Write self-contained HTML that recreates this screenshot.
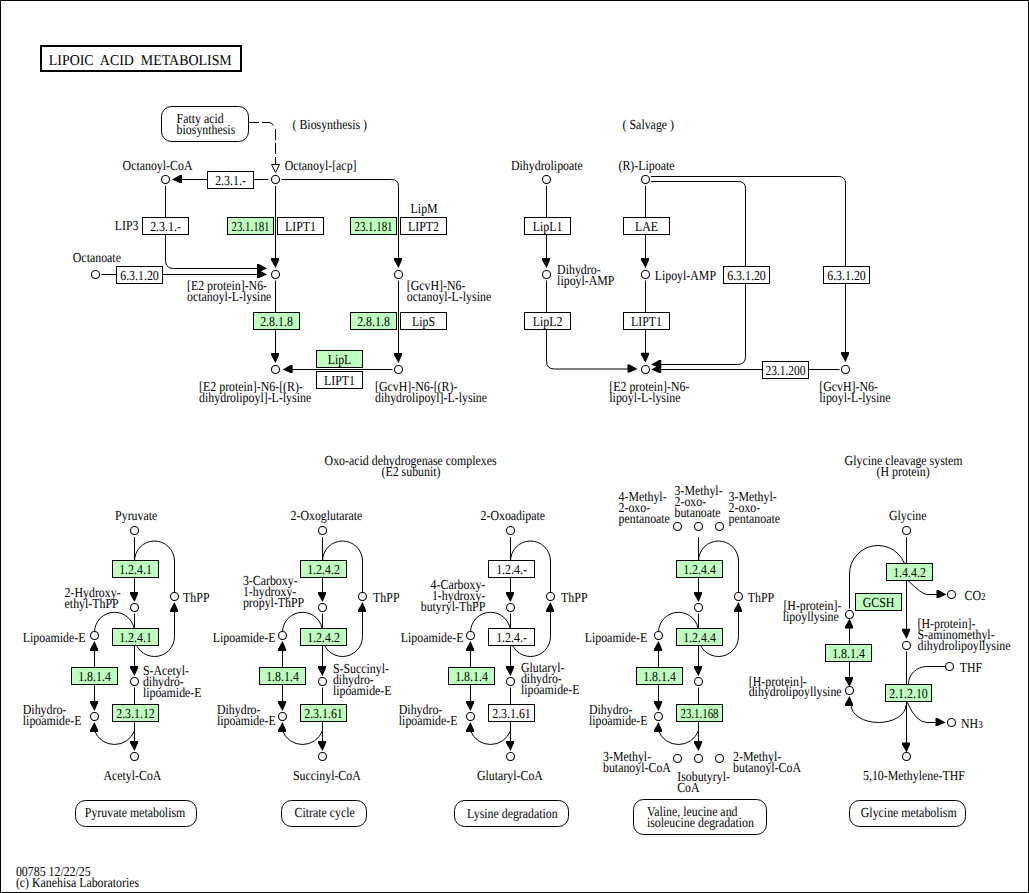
<!DOCTYPE html>
<html><head><meta charset="utf-8"><style>
html,body{margin:0;padding:0;background:#fff;}
svg{display:block;}
text{font-family:"Liberation Serif",serif;fill:#000;white-space:pre;text-rendering:geometricPrecision;}
.c{fill:#fff;stroke:#000;stroke-width:1.1;}
.l{fill:none;stroke:#000;stroke-width:1;}
.a{fill:#000;stroke:none;}
.bw{fill:#fff;stroke:#000;stroke-width:1;}
.bg{fill:#bfffbf;stroke:#000;stroke-width:1;}
.rb{fill:#fff;stroke:#000;stroke-width:1;}
</style></head><body>
<svg width="1029" height="893" viewBox="0 0 1029 893">
<rect x="0.5" y="0.5" width="1028" height="892" fill="#fff" stroke="#000" stroke-width="1"/>
<rect x="41" y="46" width="200" height="25" fill="none" stroke="#000" stroke-width="2"/>
<text transform="translate(48.80,65.00) scale(0.928,1)" font-size="15">LIPOIC  ACID  METABOLISM</text>
<rect x="161.5" y="106.5" width="87" height="35" rx="10" ry="10" class="rb"/>
<text transform="translate(176.60,123.00) scale(0.860,1)" font-size="13.8">Fatty acid</text>
<text transform="translate(176.60,134.00) scale(0.860,1)" font-size="13.8">biosynthesis</text>
<path d="M249,122.5 H259 M262,122.5 H269 Q272,122.5 273.5,125.5 M275.5,129 V140 M275.5,143 V154 M275.5,157 V164.5" class="l"/>
<polygon points="271.5,164.5 279.5,164.5 275.5,172.5" fill="#fff" stroke="#000" stroke-width="1"/>
<text transform="translate(292.50,129.00) scale(0.860,1)" font-size="13.8">( Biosynthesis )</text>
<text transform="translate(622.60,129.00) scale(0.860,1)" font-size="13.8">( Salvage )</text>
<circle cx="165.5" cy="179.5" r="4" class="c"/>
<text transform="translate(122.60,170.00) scale(0.860,1)" font-size="13.8">Octanoyl-CoA</text>
<circle cx="275.5" cy="179.5" r="4" class="c"/>
<text transform="translate(284.70,170.00) scale(0.860,1)" font-size="13.8">Octanoyl-[acp]</text>
<circle cx="546.5" cy="179.5" r="4" class="c"/>
<text transform="translate(511.00,170.00) scale(0.860,1)" font-size="13.8">Dihydrolipoate</text>
<circle cx="645.5" cy="179.5" r="4" class="c"/>
<text transform="translate(618.50,170.00) scale(0.860,1)" font-size="13.8">(R)-Lipoate</text>
<circle cx="95.5" cy="274.5" r="4" class="c"/>
<text transform="translate(72.80,262.00) scale(0.860,1)" font-size="13.8">Octanoate</text>
<circle cx="275.5" cy="274.5" r="4" class="c"/>
<text transform="translate(187.00,290.00) scale(0.860,1)" font-size="13.8">[E2 protein]-N6-</text>
<text transform="translate(187.00,301.00) scale(0.860,1)" font-size="13.8">octanoyl-L-lysine</text>
<circle cx="398.5" cy="274.5" r="4" class="c"/>
<text transform="translate(406.80,290.00) scale(0.860,1)" font-size="13.8">[GcvH]-N6-</text>
<text transform="translate(406.80,301.00) scale(0.860,1)" font-size="13.8">octanoyl-L-lysine</text>
<circle cx="275.5" cy="369.5" r="4" class="c"/>
<text transform="translate(199.10,391.00) scale(0.860,1)" font-size="13.8">[E2 protein]-N6-[(R)-</text>
<text transform="translate(199.10,402.00) scale(0.860,1)" font-size="13.8">dihydrolipoyl]-L-lysine</text>
<circle cx="398.5" cy="369.5" r="4" class="c"/>
<text transform="translate(375.00,391.00) scale(0.860,1)" font-size="13.8">[GcvH]-N6-[(R)-</text>
<text transform="translate(375.00,402.00) scale(0.860,1)" font-size="13.8">dihydrolipoyl]-L-lysine</text>
<circle cx="546.5" cy="274.5" r="4" class="c"/>
<text transform="translate(557.10,274.00) scale(0.860,1)" font-size="13.8">Dihydro-</text>
<text transform="translate(557.10,285.00) scale(0.860,1)" font-size="13.8">lipoyl-AMP</text>
<circle cx="645.5" cy="274.5" r="4" class="c"/>
<text transform="translate(654.70,280.00) scale(0.860,1)" font-size="13.8">Lipoyl-AMP</text>
<circle cx="645.5" cy="369.5" r="4" class="c"/>
<text transform="translate(609.30,391.00) scale(0.860,1)" font-size="13.8">[E2 protein]-N6-</text>
<text transform="translate(609.30,402.00) scale(0.860,1)" font-size="13.8">lipoyl-L-lysine</text>
<circle cx="845.5" cy="369.5" r="4" class="c"/>
<text transform="translate(819.30,391.00) scale(0.860,1)" font-size="13.8">[GcvH]-N6-</text>
<text transform="translate(819.30,402.00) scale(0.860,1)" font-size="13.8">lipoyl-L-lysine</text>
<text transform="translate(114.80,230.00) scale(0.860,1)" font-size="13.8">LIP3</text>
<text transform="translate(410.60,213.00) scale(0.860,1)" font-size="13.8">LipM</text>
<path d="M268.5,179.5 H181" class="l"/>
<polygon points="172.00,179.50 180.00,183.00 182.00,183.00 182.00,175.00 180.00,175.00" class="a"/>
<path d="M165.5,186 V260.5 Q165.5,268.5 173.5,268.5 H257.5" class="l"/>
<polygon points="267.00,268.50 259.00,272.00 257.00,272.00 257.00,264.00 259.00,264.00" class="a"/>
<path d="M101.5,274.5 H257.5" class="l"/>
<polygon points="267.00,274.50 259.00,278.00 257.00,278.00 257.00,270.00 259.00,270.00" class="a"/>
<path d="M275.5,186 V258.5" class="l"/>
<polygon points="275.50,268.00 279.00,260.00 279.00,258.00 271.00,258.00 271.00,260.00" class="a"/>
<path d="M281.5,179.5 H391.5 Q398.5,179.5 398.5,186.5 V258.5" class="l"/>
<polygon points="398.50,268.00 402.00,260.00 402.00,258.00 394.00,258.00 394.00,260.00" class="a"/>
<path d="M275.5,280.5 V353.5" class="l"/>
<polygon points="275.50,363.00 279.00,355.00 279.00,353.00 271.00,353.00 271.00,355.00" class="a"/>
<path d="M398.5,280.5 V353.5" class="l"/>
<polygon points="398.50,363.00 402.00,355.00 402.00,353.00 394.00,353.00 394.00,355.00" class="a"/>
<path d="M392.5,369.5 H292" class="l"/>
<polygon points="282.60,369.50 290.60,373.00 292.60,373.00 292.60,365.00 290.60,365.00" class="a"/>
<path d="M546.5,186 V258.5" class="l"/>
<polygon points="546.50,268.00 550.00,260.00 550.00,258.00 542.00,258.00 542.00,260.00" class="a"/>
<path d="M546.5,280.5 V361 Q546.5,369 554.5,369 H628" class="l"/>
<polygon points="637.50,369.00 629.50,372.50 627.50,372.50 627.50,364.50 629.50,364.50" class="a"/>
<path d="M645.5,186 V258.5" class="l"/>
<polygon points="645.50,268.00 649.00,260.00 649.00,258.00 641.00,258.00 641.00,260.00" class="a"/>
<path d="M645.5,280.5 V353" class="l"/>
<polygon points="645.50,362.70 649.00,354.70 649.00,352.70 641.00,352.70 641.00,354.70" class="a"/>
<path d="M651,176.5 H838.5 Q845.5,176.5 845.5,183.5 V352.5" class="l"/>
<polygon points="845.50,362.00 849.00,354.00 849.00,352.00 841.00,352.00 841.00,354.00" class="a"/>
<path d="M651,181.5 H738.5 Q745.5,181.5 745.5,188.5 V356.5 Q745.5,364.5 737.5,364.5 H660.5" class="l"/>
<polygon points="651.20,364.50 659.20,368.00 661.20,368.00 661.20,360.00 659.20,360.00" class="a"/>
<path d="M839.5,369.5 H660.5" class="l"/>
<polygon points="651.20,369.50 659.20,373.00 661.20,373.00 661.20,365.00 659.20,365.00" class="a"/>
<rect x="207.5" y="171.5" width="46" height="17" class="bw"/>
<text transform="translate(230.50,185.00) scale(0.860,1)" text-anchor="middle" font-size="13.8">2.3.1.-</text>
<rect x="142.5" y="217.5" width="46" height="17" class="bw"/>
<text transform="translate(165.50,231.00) scale(0.860,1)" text-anchor="middle" font-size="13.8">2.3.1.-</text>
<rect x="116.5" y="266.5" width="46" height="17" class="bw"/>
<text transform="translate(139.50,280.00) scale(0.860,1)" text-anchor="middle" font-size="13.8">6.3.1.20</text>
<rect x="227.5" y="217.5" width="46" height="17" class="bg"/>
<text x="250.50" y="231.00" text-anchor="middle" font-size="13.8" textLength="38" lengthAdjust="spacingAndGlyphs">23.1.181</text>
<rect x="277.5" y="217.5" width="46" height="17" class="bw"/>
<text transform="translate(300.50,231.00) scale(0.860,1)" text-anchor="middle" font-size="13.8">LIPT1</text>
<rect x="350.5" y="217.5" width="46" height="17" class="bg"/>
<text x="373.50" y="231.00" text-anchor="middle" font-size="13.8" textLength="38" lengthAdjust="spacingAndGlyphs">23.1.181</text>
<rect x="400.5" y="217.5" width="46" height="17" class="bw"/>
<text transform="translate(423.50,231.00) scale(0.860,1)" text-anchor="middle" font-size="13.8">LIPT2</text>
<rect x="253.5" y="312.5" width="46" height="17" class="bg"/>
<text transform="translate(276.50,326.00) scale(0.860,1)" text-anchor="middle" font-size="13.8">2.8.1.8</text>
<rect x="350.5" y="312.5" width="46" height="17" class="bg"/>
<text transform="translate(373.50,326.00) scale(0.860,1)" text-anchor="middle" font-size="13.8">2.8.1.8</text>
<rect x="400.5" y="312.5" width="46" height="17" class="bw"/>
<text transform="translate(423.50,326.00) scale(0.860,1)" text-anchor="middle" font-size="13.8">LipS</text>
<rect x="316.5" y="350.5" width="46" height="17" class="bg"/>
<text transform="translate(339.50,364.00) scale(0.860,1)" text-anchor="middle" font-size="13.8">LipL</text>
<rect x="316.5" y="371.5" width="46" height="17" class="bw"/>
<text transform="translate(339.50,385.00) scale(0.860,1)" text-anchor="middle" font-size="13.8">LIPT1</text>
<rect x="524.5" y="217.5" width="46" height="17" class="bw"/>
<text transform="translate(547.50,231.00) scale(0.860,1)" text-anchor="middle" font-size="13.8">LipL1</text>
<rect x="623.5" y="217.5" width="46" height="17" class="bw"/>
<text transform="translate(646.50,231.00) scale(0.860,1)" text-anchor="middle" font-size="13.8">LAE</text>
<rect x="524.5" y="312.5" width="46" height="17" class="bw"/>
<text transform="translate(547.50,326.00) scale(0.860,1)" text-anchor="middle" font-size="13.8">LipL2</text>
<rect x="623.5" y="312.5" width="46" height="17" class="bw"/>
<text transform="translate(646.50,326.00) scale(0.860,1)" text-anchor="middle" font-size="13.8">LIPT1</text>
<rect x="723.5" y="266.5" width="46" height="17" class="bw"/>
<text transform="translate(746.50,280.00) scale(0.860,1)" text-anchor="middle" font-size="13.8">6.3.1.20</text>
<rect x="823.5" y="266.5" width="46" height="17" class="bw"/>
<text transform="translate(846.50,280.00) scale(0.860,1)" text-anchor="middle" font-size="13.8">6.3.1.20</text>
<rect x="762.5" y="361.5" width="46" height="17" class="bw"/>
<text x="785.50" y="375.00" text-anchor="middle" font-size="13.8" textLength="40" lengthAdjust="spacingAndGlyphs">23.1.200</text>
<text transform="translate(324.60,465.00) scale(0.860,1)" font-size="13.8">Oxo-acid dehydrogenase complexes</text>
<text transform="translate(381.50,476.00) scale(0.860,1)" font-size="13.8">(E2 subunit)</text>
<text transform="translate(844.60,465.00) scale(0.860,1)" font-size="13.8">Glycine cleavage system</text>
<text transform="translate(876.60,476.00) scale(0.860,1)" font-size="13.8">(H protein)</text>
<path d="M134.5,537 V593" class="l"/>
<polygon points="134.50,602.00 138.00,594.00 138.00,592.00 130.00,592.00 130.00,594.00" class="a"/>
<path d="M134.5,561 A20,20 0 0 1 174.5,561 V592.5" class="l"/>
<path d="M134.5,613.5 V667" class="l"/>
<polygon points="134.50,676.00 138.00,668.00 138.00,666.00 130.00,666.00 130.00,668.00" class="a"/>
<path d="M94.5,632.3 A20,20 0 0 1 134.5,632.3" class="l"/>
<path d="M174.5,611 V636.5 A20,20 0 0 1 134.5,636.5" class="l"/>
<polygon points="174.50,602.00 178.00,610.00 178.00,612.00 170.00,612.00 170.00,610.00" class="a"/>
<path d="M134.5,687.5 V742" class="l"/>
<polygon points="134.50,751.00 138.00,743.00 138.00,741.00 130.00,741.00 130.00,743.00" class="a"/>
<path d="M94.5,730.8 A21.45,21.45 0 0 0 134.5,730.8" class="l"/>
<polygon points="94.50,722.00 98.00,730.00 98.00,732.00 90.00,732.00 90.00,730.00" class="a"/>
<path d="M94.5,650 V702" class="l"/>
<polygon points="94.50,641.00 98.00,649.00 98.00,651.00 90.00,651.00 90.00,649.00" class="a"/>
<polygon points="94.50,711.00 98.00,703.00 98.00,701.00 90.00,701.00 90.00,703.00" class="a"/>
<circle cx="174.5" cy="596.5" r="4" class="c"/>
<circle cx="94.5" cy="635.5" r="4" class="c"/>
<circle cx="134.5" cy="607.5" r="4" class="c"/>
<circle cx="134.5" cy="681.5" r="4" class="c"/>
<circle cx="94.5" cy="716.5" r="4" class="c"/>
<circle cx="134.5" cy="530.5" r="4" class="c"/>
<circle cx="134.5" cy="756.5" r="4" class="c"/>
<rect x="112.5" y="560.5" width="46" height="17" class="bg"/>
<text transform="translate(135.50,574.00) scale(0.860,1)" text-anchor="middle" font-size="13.8">1.2.4.1</text>
<rect x="112.5" y="628.5" width="46" height="17" class="bg"/>
<text transform="translate(135.50,642.00) scale(0.860,1)" text-anchor="middle" font-size="13.8">1.2.4.1</text>
<rect x="71.5" y="667.5" width="46" height="17" class="bg"/>
<text transform="translate(94.50,681.00) scale(0.860,1)" text-anchor="middle" font-size="13.8">1.8.1.4</text>
<rect x="112.5" y="704.5" width="46" height="17" class="bg"/>
<text transform="translate(135.50,718.00) scale(0.860,1)" text-anchor="middle" font-size="13.8">2.3.1.12</text>
<path d="M322.5,537 V593" class="l"/>
<polygon points="322.50,602.00 326.00,594.00 326.00,592.00 318.00,592.00 318.00,594.00" class="a"/>
<path d="M322.5,561 A20,20 0 0 1 362.5,561 V592.5" class="l"/>
<path d="M322.5,613.5 V667" class="l"/>
<polygon points="322.50,676.00 326.00,668.00 326.00,666.00 318.00,666.00 318.00,668.00" class="a"/>
<path d="M282.5,632.3 A20,20 0 0 1 322.5,632.3" class="l"/>
<path d="M362.5,611 V636.5 A20,20 0 0 1 322.5,636.5" class="l"/>
<polygon points="362.50,602.00 366.00,610.00 366.00,612.00 358.00,612.00 358.00,610.00" class="a"/>
<path d="M322.5,687.5 V742" class="l"/>
<polygon points="322.50,751.00 326.00,743.00 326.00,741.00 318.00,741.00 318.00,743.00" class="a"/>
<path d="M282.5,730.8 A21.45,21.45 0 0 0 322.5,730.8" class="l"/>
<polygon points="282.50,722.00 286.00,730.00 286.00,732.00 278.00,732.00 278.00,730.00" class="a"/>
<path d="M282.5,650 V702" class="l"/>
<polygon points="282.50,641.00 286.00,649.00 286.00,651.00 278.00,651.00 278.00,649.00" class="a"/>
<polygon points="282.50,711.00 286.00,703.00 286.00,701.00 278.00,701.00 278.00,703.00" class="a"/>
<circle cx="362.5" cy="596.5" r="4" class="c"/>
<circle cx="282.5" cy="635.5" r="4" class="c"/>
<circle cx="322.5" cy="607.5" r="4" class="c"/>
<circle cx="322.5" cy="681.5" r="4" class="c"/>
<circle cx="282.5" cy="716.5" r="4" class="c"/>
<circle cx="322.5" cy="530.5" r="4" class="c"/>
<circle cx="322.5" cy="756.5" r="4" class="c"/>
<rect x="300.5" y="560.5" width="46" height="17" class="bg"/>
<text transform="translate(323.50,574.00) scale(0.860,1)" text-anchor="middle" font-size="13.8">1.2.4.2</text>
<rect x="300.5" y="628.5" width="46" height="17" class="bg"/>
<text transform="translate(323.50,642.00) scale(0.860,1)" text-anchor="middle" font-size="13.8">1.2.4.2</text>
<rect x="259.5" y="667.5" width="46" height="17" class="bg"/>
<text transform="translate(282.50,681.00) scale(0.860,1)" text-anchor="middle" font-size="13.8">1.8.1.4</text>
<rect x="300.5" y="704.5" width="46" height="17" class="bg"/>
<text transform="translate(323.50,718.00) scale(0.860,1)" text-anchor="middle" font-size="13.8">2.3.1.61</text>
<path d="M510.5,537 V593" class="l"/>
<polygon points="510.50,602.00 514.00,594.00 514.00,592.00 506.00,592.00 506.00,594.00" class="a"/>
<path d="M510.5,561 A20,20 0 0 1 550.5,561 V592.5" class="l"/>
<path d="M510.5,613.5 V667" class="l"/>
<polygon points="510.50,676.00 514.00,668.00 514.00,666.00 506.00,666.00 506.00,668.00" class="a"/>
<path d="M470.5,632.3 A20,20 0 0 1 510.5,632.3" class="l"/>
<path d="M550.5,611 V636.5 A20,20 0 0 1 510.5,636.5" class="l"/>
<polygon points="550.50,602.00 554.00,610.00 554.00,612.00 546.00,612.00 546.00,610.00" class="a"/>
<path d="M510.5,687.5 V742" class="l"/>
<polygon points="510.50,751.00 514.00,743.00 514.00,741.00 506.00,741.00 506.00,743.00" class="a"/>
<path d="M470.5,730.8 A21.45,21.45 0 0 0 510.5,730.8" class="l"/>
<polygon points="470.50,722.00 474.00,730.00 474.00,732.00 466.00,732.00 466.00,730.00" class="a"/>
<path d="M470.5,650 V702" class="l"/>
<polygon points="470.50,641.00 474.00,649.00 474.00,651.00 466.00,651.00 466.00,649.00" class="a"/>
<polygon points="470.50,711.00 474.00,703.00 474.00,701.00 466.00,701.00 466.00,703.00" class="a"/>
<circle cx="550.5" cy="596.5" r="4" class="c"/>
<circle cx="470.5" cy="635.5" r="4" class="c"/>
<circle cx="510.5" cy="607.5" r="4" class="c"/>
<circle cx="510.5" cy="681.5" r="4" class="c"/>
<circle cx="470.5" cy="716.5" r="4" class="c"/>
<circle cx="510.5" cy="530.5" r="4" class="c"/>
<circle cx="510.5" cy="756.5" r="4" class="c"/>
<rect x="488.5" y="560.5" width="46" height="17" class="bw"/>
<text transform="translate(511.50,574.00) scale(0.860,1)" text-anchor="middle" font-size="13.8">1.2.4.-</text>
<rect x="488.5" y="628.5" width="46" height="17" class="bw"/>
<text transform="translate(511.50,642.00) scale(0.860,1)" text-anchor="middle" font-size="13.8">1.2.4.-</text>
<rect x="448.5" y="667.5" width="46" height="17" class="bg"/>
<text transform="translate(471.50,681.00) scale(0.860,1)" text-anchor="middle" font-size="13.8">1.8.1.4</text>
<rect x="488.5" y="704.5" width="46" height="17" class="bw"/>
<text transform="translate(511.50,718.00) scale(0.860,1)" text-anchor="middle" font-size="13.8">2.3.1.61</text>
<path d="M698.5,537 V593" class="l"/>
<polygon points="698.50,602.00 702.00,594.00 702.00,592.00 694.00,592.00 694.00,594.00" class="a"/>
<path d="M698.5,561 A20,20 0 0 1 738.5,561 V592.5" class="l"/>
<path d="M698.5,613.5 V667" class="l"/>
<polygon points="698.50,676.00 702.00,668.00 702.00,666.00 694.00,666.00 694.00,668.00" class="a"/>
<path d="M658.5,632.3 A20,20 0 0 1 698.5,632.3" class="l"/>
<path d="M738.5,611 V636.5 A20,20 0 0 1 698.5,636.5" class="l"/>
<polygon points="738.50,602.00 742.00,610.00 742.00,612.00 734.00,612.00 734.00,610.00" class="a"/>
<path d="M698.5,687.5 V742" class="l"/>
<polygon points="698.50,751.00 702.00,743.00 702.00,741.00 694.00,741.00 694.00,743.00" class="a"/>
<path d="M658.5,730.8 A21.45,21.45 0 0 0 698.5,730.8" class="l"/>
<polygon points="658.50,722.00 662.00,730.00 662.00,732.00 654.00,732.00 654.00,730.00" class="a"/>
<path d="M658.5,650 V702" class="l"/>
<polygon points="658.50,641.00 662.00,649.00 662.00,651.00 654.00,651.00 654.00,649.00" class="a"/>
<polygon points="658.50,711.00 662.00,703.00 662.00,701.00 654.00,701.00 654.00,703.00" class="a"/>
<circle cx="738.5" cy="596.5" r="4" class="c"/>
<circle cx="658.5" cy="635.5" r="4" class="c"/>
<circle cx="698.5" cy="607.5" r="4" class="c"/>
<circle cx="698.5" cy="681.5" r="4" class="c"/>
<circle cx="658.5" cy="716.5" r="4" class="c"/>
<circle cx="677.5" cy="526.5" r="4" class="c"/>
<circle cx="677.5" cy="758.5" r="4" class="c"/>
<circle cx="698.5" cy="526.5" r="4" class="c"/>
<circle cx="698.5" cy="758.5" r="4" class="c"/>
<circle cx="719.5" cy="526.5" r="4" class="c"/>
<circle cx="719.5" cy="758.5" r="4" class="c"/>
<rect x="676.5" y="560.5" width="46" height="17" class="bg"/>
<text transform="translate(699.50,574.00) scale(0.860,1)" text-anchor="middle" font-size="13.8">1.2.4.4</text>
<rect x="676.5" y="628.5" width="46" height="17" class="bg"/>
<text transform="translate(699.50,642.00) scale(0.860,1)" text-anchor="middle" font-size="13.8">1.2.4.4</text>
<rect x="636.5" y="667.5" width="46" height="17" class="bg"/>
<text transform="translate(659.50,681.00) scale(0.860,1)" text-anchor="middle" font-size="13.8">1.8.1.4</text>
<rect x="676.5" y="704.5" width="46" height="17" class="bg"/>
<text x="699.50" y="718.00" text-anchor="middle" font-size="13.8" textLength="38" lengthAdjust="spacingAndGlyphs">23.1.168</text>
<text transform="translate(115.10,520.00) scale(0.860,1)" font-size="13.8">Pyruvate</text>
<text transform="translate(64.60,597.00) scale(0.860,1)" font-size="13.8">2-Hydroxy-</text>
<text transform="translate(64.60,608.00) scale(0.860,1)" font-size="13.8">ethyl-ThPP</text>
<text transform="translate(183.10,602.00) scale(0.860,1)" font-size="13.8">ThPP</text>
<text transform="translate(22.80,642.00) scale(0.860,1)" font-size="13.8">Lipoamide-E</text>
<text transform="translate(142.90,675.00) scale(0.860,1)" font-size="13.8">S-Acetyl-</text>
<text transform="translate(142.90,686.00) scale(0.860,1)" font-size="13.8">dihydro-</text>
<text transform="translate(142.90,697.00) scale(0.860,1)" font-size="13.8">lipoamide-E</text>
<text transform="translate(22.80,714.00) scale(0.860,1)" font-size="13.8">Dihydro-</text>
<text transform="translate(22.80,725.00) scale(0.860,1)" font-size="13.8">lipoamide-E</text>
<text transform="translate(103.40,780.00) scale(0.860,1)" font-size="13.8">Acetyl-CoA</text>
<text transform="translate(290.50,520.00) scale(0.860,1)" font-size="13.8">2-Oxoglutarate</text>
<text transform="translate(242.90,585.00) scale(0.860,1)" font-size="13.8">3-Carboxy-</text>
<text transform="translate(242.90,596.00) scale(0.860,1)" font-size="13.8">1-hydroxy-</text>
<text transform="translate(242.90,607.00) scale(0.860,1)" font-size="13.8">propyl-ThPP</text>
<text transform="translate(373.10,602.00) scale(0.860,1)" font-size="13.8">ThPP</text>
<text transform="translate(212.80,642.00) scale(0.860,1)" font-size="13.8">Lipoamide-E</text>
<text transform="translate(332.90,673.00) scale(0.860,1)" font-size="13.8">S-Succinyl-</text>
<text transform="translate(332.90,684.00) scale(0.860,1)" font-size="13.8">dihydro-</text>
<text transform="translate(332.90,695.00) scale(0.860,1)" font-size="13.8">lipoamide-E</text>
<text transform="translate(217.00,714.00) scale(0.860,1)" font-size="13.8">Dihydro-</text>
<text transform="translate(217.00,725.00) scale(0.860,1)" font-size="13.8">lipoamide-E</text>
<text transform="translate(292.90,780.00) scale(0.860,1)" font-size="13.8">Succinyl-CoA</text>
<text transform="translate(480.50,520.00) scale(0.860,1)" font-size="13.8">2-Oxoadipate</text>
<text transform="translate(485.30,589.00) scale(0.860,1)" text-anchor="end" font-size="13.8">4-Carboxy-</text>
<text transform="translate(485.30,600.00) scale(0.860,1)" text-anchor="end" font-size="13.8">1-hydroxy-</text>
<text transform="translate(485.30,611.00) scale(0.860,1)" text-anchor="end" font-size="13.8">butyryl-ThPP</text>
<text transform="translate(561.10,602.00) scale(0.860,1)" font-size="13.8">ThPP</text>
<text transform="translate(400.80,642.00) scale(0.860,1)" font-size="13.8">Lipoamide-E</text>
<text transform="translate(520.90,672.00) scale(0.860,1)" font-size="13.8">Glutaryl-</text>
<text transform="translate(520.90,683.00) scale(0.860,1)" font-size="13.8">dihydro-</text>
<text transform="translate(520.90,694.00) scale(0.860,1)" font-size="13.8">lipoamide-E</text>
<text transform="translate(398.80,714.00) scale(0.860,1)" font-size="13.8">Dihydro-</text>
<text transform="translate(398.80,725.00) scale(0.860,1)" font-size="13.8">lipoamide-E</text>
<text transform="translate(477.00,780.00) scale(0.860,1)" font-size="13.8">Glutaryl-CoA</text>
<text transform="translate(618.50,501.00) scale(0.860,1)" font-size="13.8">4-Methyl-</text>
<text transform="translate(618.50,512.00) scale(0.860,1)" font-size="13.8">2-oxo-</text>
<text transform="translate(618.50,523.00) scale(0.860,1)" font-size="13.8">pentanoate</text>
<text transform="translate(674.50,495.00) scale(0.860,1)" font-size="13.8">3-Methyl-</text>
<text transform="translate(674.50,506.00) scale(0.860,1)" font-size="13.8">2-oxo-</text>
<text transform="translate(674.50,517.00) scale(0.860,1)" font-size="13.8">butanoate</text>
<text transform="translate(728.60,501.00) scale(0.860,1)" font-size="13.8">3-Methyl-</text>
<text transform="translate(728.60,512.00) scale(0.860,1)" font-size="13.8">2-oxo-</text>
<text transform="translate(728.60,523.00) scale(0.860,1)" font-size="13.8">pentanoate</text>
<text transform="translate(747.80,602.00) scale(0.860,1)" font-size="13.8">ThPP</text>
<text transform="translate(584.70,642.00) scale(0.860,1)" font-size="13.8">Lipoamide-E</text>
<text transform="translate(588.90,714.00) scale(0.860,1)" font-size="13.8">Dihydro-</text>
<text transform="translate(588.90,725.00) scale(0.860,1)" font-size="13.8">lipoamide-E</text>
<text transform="translate(603.00,761.00) scale(0.860,1)" font-size="13.8">3-Methyl-</text>
<text transform="translate(603.00,772.00) scale(0.860,1)" font-size="13.8">butanoyl-CoA</text>
<text transform="translate(677.20,781.00) scale(0.860,1)" font-size="13.8">Isobutyryl-</text>
<text transform="translate(677.20,792.00) scale(0.860,1)" font-size="13.8">CoA</text>
<text transform="translate(733.10,761.00) scale(0.860,1)" font-size="13.8">2-Methyl-</text>
<text transform="translate(733.10,772.00) scale(0.860,1)" font-size="13.8">butanoyl-CoA</text>
<path d="M906.5,537 V629.5" class="l"/>
<polygon points="906.50,638.80 910.00,630.80 910.00,628.80 902.00,628.80 902.00,630.80" class="a"/>
<path d="M849.5,574 A28.5,28.5 0 0 1 906.5,574" class="l"/>
<path d="M849.5,574 V608.5" class="l"/>
<path d="M849.5,627.5 V644.5" class="l"/>
<polygon points="849.50,618.50 853.00,626.50 853.00,628.50 845.00,628.50 845.00,626.50" class="a"/>
<path d="M908,580.5 Q922,594.5 927,594.5 H937" class="l"/>
<polygon points="946.50,594.50 938.50,598.00 936.50,598.00 936.50,590.00 938.50,590.00" class="a"/>
<path d="M906.5,651.5 V743.5" class="l"/>
<polygon points="906.50,752.50 910.00,744.50 910.00,742.50 902.00,742.50 902.00,744.50" class="a"/>
<path d="M849.5,661.5 V677" class="l"/>
<polygon points="849.50,687.00 853.00,679.00 853.00,677.00 845.00,677.00 845.00,679.00" class="a"/>
<path d="M851,705 A27.5,17.5 0 0 0 906,705" class="l"/>
<polygon points="849.50,696.00 853.00,704.00 853.00,706.00 845.00,706.00 845.00,704.00" class="a"/>
<path d="M908.5,684 A18.5,17.5 0 0 1 927,666.5 H945.5" class="l"/>
<path d="M907,702 Q916,722.5 927,722.5 H937" class="l"/>
<polygon points="945.50,722.50 937.50,726.00 935.50,726.00 935.50,718.00 937.50,718.00" class="a"/>
<circle cx="906.5" cy="530.5" r="4" class="c"/>
<circle cx="906.5" cy="645.5" r="4" class="c"/>
<circle cx="951.5" cy="594.5" r="4" class="c"/>
<circle cx="849.5" cy="614.5" r="4" class="c"/>
<circle cx="849.5" cy="690.5" r="4" class="c"/>
<circle cx="949.5" cy="666.5" r="4" class="c"/>
<circle cx="951.5" cy="722.5" r="4" class="c"/>
<circle cx="906.5" cy="756.5" r="4" class="c"/>
<rect x="886.5" y="563.5" width="46" height="17" class="bg"/>
<text transform="translate(909.50,577.00) scale(0.860,1)" text-anchor="middle" font-size="13.8">1.4.4.2</text>
<rect x="855.5" y="593.5" width="46" height="17" class="bg"/>
<text transform="translate(878.50,607.00) scale(0.860,1)" text-anchor="middle" font-size="13.8">GCSH</text>
<rect x="825.5" y="644.5" width="46" height="17" class="bg"/>
<text transform="translate(848.50,658.00) scale(0.860,1)" text-anchor="middle" font-size="13.8">1.8.1.4</text>
<rect x="885.5" y="684.5" width="46" height="17" class="bg"/>
<text transform="translate(908.50,698.00) scale(0.860,1)" text-anchor="middle" font-size="13.8">2.1.2.10</text>
<text transform="translate(888.90,520.00) scale(0.860,1)" font-size="13.8">Glycine</text>
<text transform="translate(964.5,600) scale(0.86,1)" font-size="13.8">CO<tspan font-size="10.5">2</tspan></text>
<text transform="translate(783.40,610.00) scale(0.860,1)" font-size="13.8">[H-protein]-</text>
<text transform="translate(838.80,621.00) scale(0.860,1)" text-anchor="end" font-size="13.8">lipoyllysine</text>
<text transform="translate(917.50,628.00) scale(0.860,1)" font-size="13.8">[H-protein]-</text>
<text transform="translate(917.50,639.00) scale(0.860,1)" font-size="13.8">S-aminomethyl-</text>
<text transform="translate(917.50,650.00) scale(0.860,1)" font-size="13.8">dihydrolipoyllysine</text>
<text transform="translate(748.80,686.00) scale(0.860,1)" font-size="13.8">[H-protein]-</text>
<text transform="translate(841.60,696.00) scale(0.860,1)" text-anchor="end" font-size="13.8">dihydrolipoyllysine</text>
<text transform="translate(959.80,672.00) scale(0.860,1)" font-size="13.8">THF</text>
<text transform="translate(961,728) scale(0.86,1)" font-size="13.8">NH<tspan font-size="10.5">3</tspan></text>
<text transform="translate(863.00,780.00) scale(0.860,1)" font-size="13.8">5,10-Methylene-THF</text>
<rect x="75.5" y="800.5" width="121" height="26" rx="10" ry="10" class="rb"/>
<text transform="translate(84.80,817.00) scale(0.860,1)" font-size="13.8">Pyruvate metabolism</text>
<rect x="281.5" y="800.5" width="85" height="26" rx="10" ry="10" class="rb"/>
<text transform="translate(294.60,817.00) scale(0.860,1)" font-size="13.8">Citrate cycle</text>
<rect x="454.5" y="800.5" width="114" height="26" rx="10" ry="10" class="rb"/>
<text transform="translate(467.10,818.00) scale(0.860,1)" font-size="13.8">Lysine degradation</text>
<rect x="633.5" y="799.5" width="133" height="35" rx="10" ry="10" class="rb"/>
<text transform="translate(646.90,816.00) scale(0.860,1)" font-size="13.8">Valine, leucine and</text>
<text transform="translate(646.90,827.00) scale(0.860,1)" font-size="13.8">isoleucine degradation</text>
<rect x="849.5" y="800.5" width="116" height="26" rx="10" ry="10" class="rb"/>
<text transform="translate(860.80,817.00) scale(0.860,1)" font-size="13.8">Glycine metabolism</text>
<text transform="translate(15.90,876.00) scale(0.860,1)" font-size="13.8">00785 12/22/25</text>
<text transform="translate(15.90,887.00) scale(0.860,1)" font-size="13.8">(c) Kanehisa Laboratories</text>
</svg>
</body></html>
